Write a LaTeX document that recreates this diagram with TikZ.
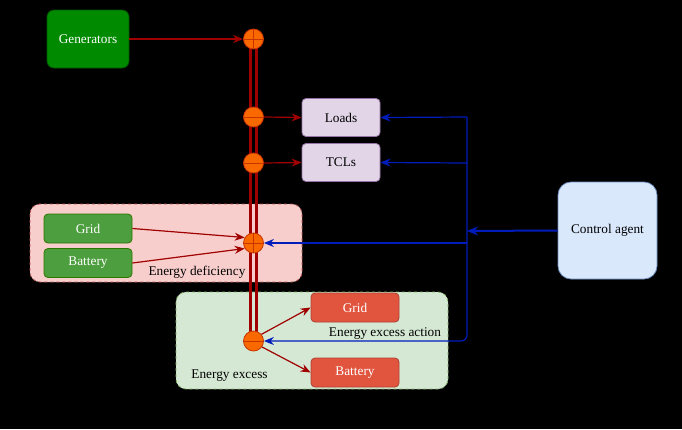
\documentclass[tikz,border=0pt]{standalone}
\usepackage{fontspec}
\setmainfont{Liberation Serif}
\usetikzlibrary{arrows.meta}
\definecolor{gengreen}{HTML}{008A00}
\definecolor{gendark}{HTML}{005700}
\definecolor{smgreen}{HTML}{4C9E3E}
\definecolor{smgreendark}{HTML}{2D7600}
\definecolor{redbox}{HTML}{E1553F}
\definecolor{redboxdark}{HTML}{AE4132}
\definecolor{lilac}{HTML}{E1D5E7}
\definecolor{lilacdark}{HTML}{9673A6}
\definecolor{ltblue}{HTML}{DAE8FC}
\definecolor{ltbluedark}{HTML}{6C8EBF}
\definecolor{pinkfill}{HTML}{F8CECC}
\definecolor{pinkdark}{HTML}{B85450}
\definecolor{mintfill}{HTML}{D5E8D4}
\definecolor{mintdark}{HTML}{82B366}
\definecolor{busorange}{HTML}{FA6800}
\definecolor{busorangedark}{HTML}{C73500}
\definecolor{busred}{HTML}{A00000}
\definecolor{ctrlblue}{HTML}{001DBC}
\begin{document}
\begin{tikzpicture}[x=1pt,y=-1pt,
  font=\fontsize{13.3}{15}\selectfont,
  basebox/.style={draw, line width=0.8pt, inner sep=0pt, align=center},
  genbox/.style={basebox, draw=gendark, fill=gengreen, text=white, rounded corners=7pt},
  okbox/.style={basebox, draw=smgreendark, fill=smgreen, text=white, rounded corners=4pt, minimum width=88pt, minimum height=29pt},
  badbox/.style={basebox, draw=redboxdark, fill=redbox, text=white, rounded corners=4pt, minimum width=88pt, minimum height=29pt},
  loadbox/.style={basebox, draw=lilacdark, fill=lilac, rounded corners=4pt, minimum width=78pt, minimum height=38pt},
  agentbox/.style={basebox, draw=ltbluedark, fill=ltblue, rounded corners=13pt, minimum width=99pt, minimum height=97pt},
  zone/.style={draw, dashed, line width=0.8pt, rounded corners=10pt},
  busnode/.style={circle, draw=busorangedark, fill=busorange, line width=0.8pt, minimum size=20pt, inner sep=0pt},
  crossline/.style={draw=busorangedark, line width=0.8pt},
  busline/.style={draw=busred, line width=3.2pt},
  redarr/.style={draw=busred, line width=1.2pt, -{Stealth[length=10pt,width=8pt]}},
  bluearr/.style={draw=ctrlblue, line width=1.2pt, -{Stealth[length=10pt,width=8pt]}},
  blueline/.style={draw=ctrlblue, line width=1.2pt},
  lbl/.style={inner sep=0pt, text=black}
]
\useasboundingbox (0,0) rectangle (682,429);
\fill[black] (0,0) rectangle (682,429);

% zones
\draw[zone, draw=pinkdark, fill=pinkfill] (30,204) rectangle (302,282);
\draw[zone, draw=mintdark, fill=mintfill] (176,292) rectangle (448,389);

% bus
\draw[busline] (250.5,39) -- (250.5,341);
\draw[busline] (256.5,39) -- (256.5,341);

% bus nodes
\node[busnode] (c1) at (253.5,39) {};
\node[busnode] (c2) at (253.5,117) {};
\node[busnode] (c3) at (253.5,163) {};
\node[busnode] (c4) at (253.5,243) {};
\node[busnode] (c5) at (253.5,341) {};
\draw[crossline] (c1.west) -- (c1.east) (c1.north) -- (c1.south);
\draw[crossline] (c2.west) -- (c2.east);
\draw[crossline] (c3.west) -- (c3.east);
\draw[crossline] (c4.west) -- (c4.east) (c4.north) -- (c4.south);
\draw[crossline] (c5.west) -- (c5.east);

% boxes
\node[genbox, minimum width=82pt, minimum height=58pt] (gen) at (88,39) {Generators};
\node[loadbox] (loads) at (341,117.5) {Loads};
\node[loadbox] (tcls) at (341,162.5) {TCLs};
\node[agentbox] (agent) at (607.5,230.5) {Control agent};
\node[okbox] (gridin) at (88,228.5) {Grid};
\node[okbox] (battin) at (88,263) {Battery};
\node[badbox] (gridout) at (355,307.5) {Grid};
\node[badbox] (battout) at (355,372.5) {Battery};

% labels
\node[lbl] (deflbl) at (197,272) {Energy deficiency};
\node[lbl] (actlbl) at (385,334) {Energy excess action};
\node[lbl] (exlbl) at (229.5,375.5) {Energy excess};

% red power arrows
\draw[redarr] (gen.east) -- (c1.west);
\draw[redarr] (c2.east) -- (loads.west);
\draw[redarr] (c3.east) -- (tcls.west);
\draw[redarr] (gridin.east) -- (c4.148);
\draw[redarr] (battin.east) -- (c4.212);
\draw[redarr] (c5.40) -- (gridout.west);
\draw[redarr] (c5.-35) -- (battout.west);

% control lines
\coordinate (jt) at (467,117);
\coordinate (jm) at (467,163);
\coordinate (ja) at (467,231);
\coordinate (jd) at (467,243);
\draw[draw=ctrlblue, line width=2pt, -{Stealth[length=11pt,width=9pt]}] (agent.west) -- (ja);
\draw[blueline, rounded corners=6pt, -{Stealth[length=10pt,width=8pt]}] (jt) |- (c5.east);
\draw[bluearr] (jt) -- (loads.east);
\draw[bluearr] (jm) -- (tcls.east);
\draw[bluearr] (jd) -- (c4.east);
\end{tikzpicture}
\end{document}
